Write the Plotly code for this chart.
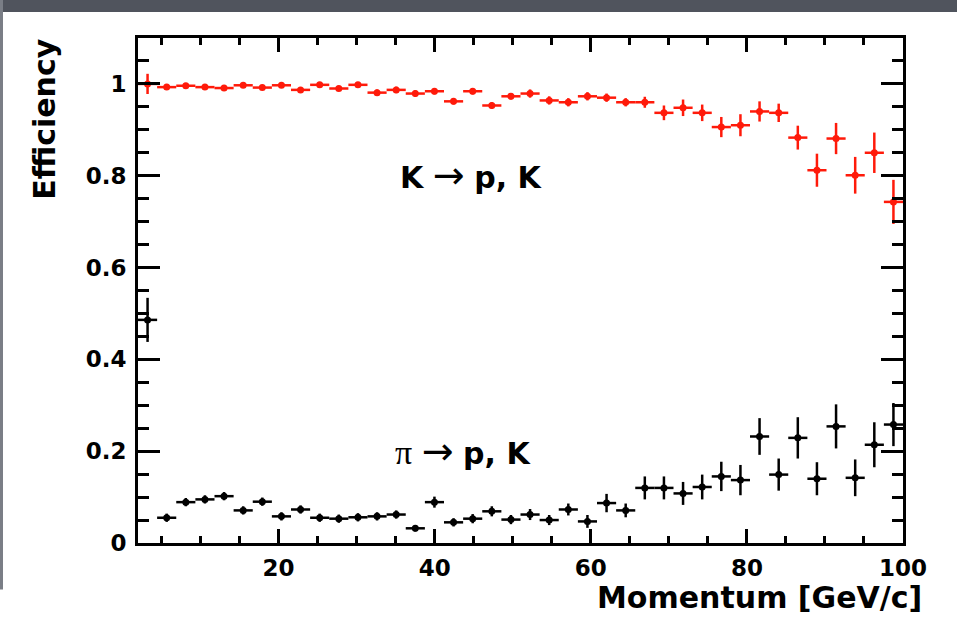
import plotly.graph_objects as go

# Momentum bin centres [GeV/c] (40 bins from 2 to 100)
momentum = [3.225, 5.675, 8.125, 10.575, 13.025, 15.475, 17.925, 20.375, 22.825, 25.275,
            27.725, 30.175, 32.625, 35.075, 37.525, 39.975, 42.425, 44.875, 47.325, 49.775,
            52.225, 54.675, 57.125, 59.575, 62.025, 64.475, 66.925, 69.375, 71.825, 74.275,
            76.725, 79.175, 81.625, 84.075, 86.525, 88.975, 91.425, 93.875, 96.325, 98.775]
bin_half_width = [1.225] * 40

# K -> p, K efficiency
eff_K = [1.000, 0.993, 0.996, 0.993, 0.991, 0.997, 0.992, 0.997, 0.987, 0.998,
         0.990, 0.998, 0.981, 0.987, 0.979, 0.984, 0.962, 0.984, 0.953, 0.973,
         0.979, 0.964, 0.960, 0.973, 0.970, 0.960, 0.960, 0.937, 0.948, 0.937,
         0.906, 0.910, 0.940, 0.937, 0.883, 0.812, 0.881, 0.801, 0.850, 0.743]
err_K = [0.022, 0.005, 0.005, 0.005, 0.005, 0.005, 0.005, 0.005, 0.005, 0.005,
         0.005, 0.005, 0.007, 0.007, 0.007, 0.007, 0.007, 0.007, 0.007, 0.007,
         0.009, 0.009, 0.009, 0.009, 0.009, 0.009, 0.012, 0.016, 0.018, 0.018,
         0.022, 0.024, 0.022, 0.020, 0.026, 0.036, 0.034, 0.040, 0.044, 0.048]

# pi -> p, K efficiency (mis-identification)
eff_pi = [0.486, 0.055, 0.089, 0.095, 0.102, 0.071, 0.090, 0.058, 0.073, 0.055,
          0.053, 0.056, 0.058, 0.062, 0.032, 0.089, 0.045, 0.053, 0.069, 0.051,
          0.062, 0.050, 0.073, 0.047, 0.087, 0.071, 0.120, 0.120, 0.108, 0.122,
          0.145, 0.137, 0.232, 0.149, 0.229, 0.140, 0.254, 0.142, 0.214, 0.258]
err_pi = [0.048, 0.009, 0.009, 0.009, 0.009, 0.009, 0.009, 0.009, 0.009, 0.009,
          0.009, 0.009, 0.009, 0.009, 0.007, 0.012, 0.009, 0.010, 0.011, 0.010,
          0.012, 0.011, 0.013, 0.014, 0.020, 0.015, 0.025, 0.025, 0.025, 0.027,
          0.032, 0.033, 0.040, 0.035, 0.045, 0.036, 0.048, 0.040, 0.049, 0.047]

x_tick_vals = [20, 40, 60, 80, 100]
y_tick_vals = [0, 0.2, 0.4, 0.6, 0.8, 1]

FONT = "DejaVu Sans"

fig = go.Figure()

fig.add_trace(go.Scatter(
    x=momentum, y=eff_pi, mode="markers",
    marker=dict(color="black", size=7),
    error_y=dict(type="data", array=err_pi, color="black", thickness=2.5, width=0),
    error_x=dict(type="data", array=bin_half_width, color="black", thickness=2.5, width=0),
    showlegend=False,
))
fig.add_trace(go.Scatter(
    x=momentum, y=eff_K, mode="markers",
    marker=dict(color="#ff1a0a", size=7),
    error_y=dict(type="data", array=err_K, color="#ff1a0a", thickness=2.5, width=0),
    error_x=dict(type="data", array=bin_half_width, color="#ff1a0a", thickness=2.5, width=0),
    showlegend=False,
))

axis_common = dict(
    showline=True, linecolor="black", linewidth=3, mirror="allticks",
    ticks="inside", tickcolor="black", tickwidth=2.5,
    showgrid=False, zeroline=False,
    tickfont=dict(family=FONT, size=23, color="black", weight="bold"),
)

fig.update_xaxes(range=[2, 100], tickvals=x_tick_vals, ticklen=14,
                 minor=dict(dtick=5, tick0=0, ticks="inside", ticklen=7,
                            tickwidth=2.5, tickcolor="black"),
                 ticklabelstandoff=2, **axis_common)
fig.update_yaxes(range=[0, 1.1], tickvals=y_tick_vals, ticklen=22,
                 minor=dict(dtick=0.05, tick0=0, ticks="inside", ticklen=11,
                            tickwidth=2.5, tickcolor="black"),
                 ticklabelstandoff=4, **axis_common)

# axis titles (ROOT style, right aligned at axis end)
fig.add_annotation(text="<b>Momentum [GeV/c]</b>", xref="paper", yref="paper",
                   x=1.027, y=-0.108, xanchor="right", yanchor="middle",
                   showarrow=False, font=dict(family=FONT, size=30, color="black"))
fig.add_annotation(text="<b>Efficiency</b>", xref="paper", yref="paper",
                   x=-0.1216, y=0.840, xanchor="center", yanchor="middle", textangle=-90,
                   showarrow=False, font=dict(family=FONT, size=30, color="black"))

ARROW = "<span style='font-size:38px'>→</span>"
# in-plot labels
fig.add_annotation(text="<b>K</b> " + ARROW + " <b>p, K</b>", xref="x", yref="y",
                   x=35.3, y=0.802, xanchor="left", yanchor="middle",
                   showarrow=False, font=dict(family=FONT, size=30, color="black"))
fig.add_annotation(text="<span style='font-family:Liberation Serif;font-size:34px'>π</span> "
                        + ARROW + " <b>p, K</b>",
                   xref="x", yref="y",
                   x=34.7, y=0.20, xanchor="left", yanchor="middle",
                   showarrow=False, font=dict(family=FONT, size=30, color="black"))

# dark band at the top of the slide and thin shadow on the left edge
fig.add_shape(type="rect", xref="paper", yref="paper",
              x0=-0.2, x1=1.1, y0=(543.5 - 12) / 505.5, y1=1.2,
              fillcolor="#50545d", line=dict(width=0), layer="above")
fig.add_shape(type="rect", xref="paper", yref="paper",
              x0=-0.2, x1=(3 - 138) / 765, y0=(543.5 - 590) / 505.5, y1=1.2,
              fillcolor="#7a7e86", line=dict(width=0), layer="above")

fig.update_layout(
    width=957, height=637,
    margin=dict(l=138, r=54, t=38, b=93.5),
    paper_bgcolor="white", plot_bgcolor="white",
    font=dict(family=FONT, color="black"),
)

fig.write_html("out.html", config={"displayModeBar": False},
               post_script="document.body.style.margin='0px';document.body.style.overflow='hidden';")
